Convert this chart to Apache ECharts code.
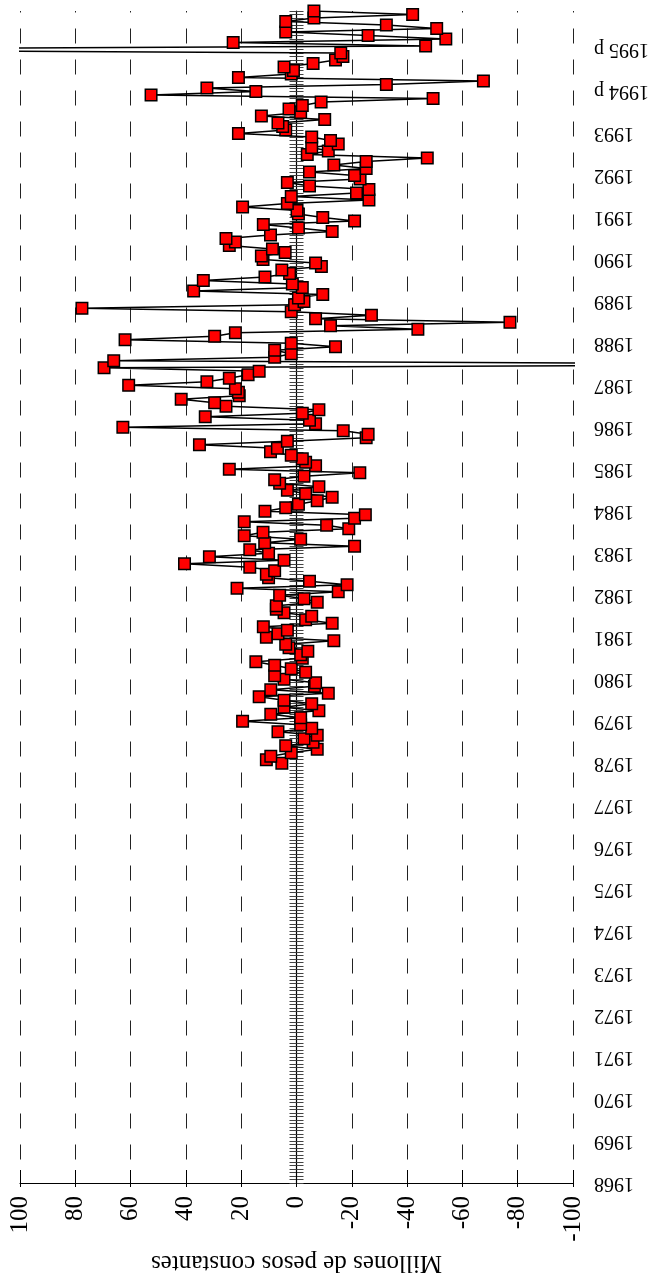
<!DOCTYPE html>
<html><head><meta charset="utf-8">
<script src="https://cdn.jsdelivr.net/npm/echarts@6/dist/echarts.min.js"></script>
<style>html,body{margin:0;padding:0;background:#fff}#c{width:656px;height:1275px}</style>
</head><body><div id="c"></div>
<script>
// Time axis: monthly, 1968-1995 ("p" = preliminary)
const firstYear = 1968;
const lastYear = 1995;
const provisionalYears = [1994, 1995];
const axisTitle = 'Millones de pesos constantes';
const valueTicks = [-100, -80, -60, -40, -20, 0, 20, 40, 60, 80, 100];

// Monthly values (Jan..Dec), millones de pesos constantes
const v1978 = [5.3, 10.9, 9.3, 1.9, -7.5, 3.9, -6, -2.7, -7.5, 6.7, -5.5, -1.5];
const v1979 = [19.5, -1.5, 9.3, -8.1, 4.5, -5.5, 4.5, 13.5, -11.5, 9.3, -6.5, -6.9];
const v1980 = [4.5, 7.9, -3.3, 1.9, 7.9, 14.7, -2.1, -1.5, -4.1, 2.7, 3.9, -13.5];
const v1981 = [10.9, 6.7, 3.3, 12, -12.9, -3.3, -5.5, 4.5, 7.3, 7.3, -7.5, -2.7];
const v1982 = [6.1, -15.1, 21.5, -18.3, -4.7, 10.1, 10.9, 7.9, 16.9, 40.5, 4.5, 31.5];
const v1983 = [10.1, 16.9, -21, 11.5, -1.5, 18.9, 12.1, -18.9, -10.9, 18.9, -21, -24.9];
const v1984 = [11.4, 3.9, -0.7, -7.5, -12.9, -3.3, 3.3, -8.1, 6.1, 7.9, -2.7, -22.9];
const v1985 = [24.3, -6.9, -3.3, -2.1, 1.9, 9.4, 6.9, 35.1, 3.3, -25.2, -25.9, -16.9];
const v1986 = [62.8, -6.9, -4.7, 33, -2.1, -8.1, 25.5, 29.6, 41.7, 20.7, 21, 22.1];
const v1987 = [60.7, 32.4, 24.3, 17.5, 13.5, 69.6, -215, 66.1, 7.9, 1.9, 7.9, -14.1];
const v1988 = [1.9, 62, 29.6, 22.1, -43.9, -12.3, -77.2, -6.9, -27.1, 1.9, 77.6, 0.7];
const v1989 = [-2.7, -0.7, -9.5, 37.2, -2.1, 1.5, 33.7, 11.4, 2.5, 5.3, -9, -6.9];
const v1990 = [12.1, 12.7, 4.1, 8.7, 24.3, 22.1, 25.5, 9.4, -12.9, -0.7, 12, -21];
const v1991 = [-9.5, -0.7, -0.2, 19.5, 3.3, -26.2, 1.9, -21.7, -26.2, -4.7, 3.3, -23];
const v1992 = [-21, -4.7, -25.2, -13.5, -25.2, -47.3, -3.9, -11.5, -5.5, -15.1, -12.3, -5.5];
const v1993 = [21, 3.9, 5, 6.7, -10.2, 12.7, -1.5, 2.7, -2.1, -8.9, -49.4, 52.6];
const v1994 = [14.7, 32.4, -32.5, -67.6, 21, 1.9, 1.1, 4.5, -6, -14.1, -16.8, -16];
const v1995 = [224, -46.7, 22.9, -54, -25.9, 3.9, -50.7, -32.5, 3.9, -6.3, -42, -6.3];

const seriesByYear = {
  1978: v1978, 1979: v1979, 1980: v1980, 1981: v1981, 1982: v1982, 1983: v1983,
  1984: v1984, 1985: v1985, 1986: v1986, 1987: v1987, 1988: v1988, 1989: v1989,
  1990: v1990, 1991: v1991, 1992: v1992, 1993: v1993, 1994: v1994, 1995: v1995
};

// Build month categories and data
const months = [];
for (let y = firstYear; y <= lastYear; y++) {
  for (let m = 1; m <= 12; m++) months.push(y + '-' + (m < 10 ? '0' + m : m));
}
const points = [];
Object.keys(seriesByYear).forEach(function (y) {
  seriesByYear[y].forEach(function (v, i) {
    points.push([v, y + '-' + (i < 9 ? '0' + (i + 1) : (i + 1))]);
  });
});
function yearText(cat) {
  const y = +cat.slice(0, 4);
  return provisionalYears.indexOf(y) >= 0 ? y + ' p' : String(y);
}
const isJan = function (idx, cat) { return cat.slice(5) === '01'; };

const FONT = 'Liberation Serif';
const chart = echarts.init(document.getElementById('c'), null, { renderer: 'canvas' });
const baseX = {
  type: 'value', min: -100, max: 100, interval: 20, inverse: true,
  position: 'bottom', gridIndex: 0
};
chart.setOption({
  animation: false,
  backgroundColor: '#fff',
  grid: { left: 20, right: 83, top: 11, bottom: 92, containLabel: false, outerBoundsMode: 'none' },
  xAxis: [
    Object.assign({}, baseX, {
      axisLine: { show: true, onZero: false, lineStyle: { color: '#000', width: 1.2 } },
      axisTick: { show: true, inside: true, length: 13, lineStyle: { color: '#000', width: 1 } },
      axisLabel: {
        show: true, rotate: 90, margin: 13, color: '#000', fontFamily: FONT, fontSize: 25,
        formatter: function (v) { return String(v); }
      },
      splitLine: { show: true, lineStyle: { color: '#222', width: 1, type: [15, 16], dashOffset: 13.5 } },
      name: axisTitle, nameLocation: 'middle', nameGap: 58, nameRotate: 180,
      nameTextStyle: { color: '#000', fontFamily: FONT, fontSize: 25 }
    }),
    Object.assign({}, baseX, {
      axisLine: { show: false, onZero: false },
      axisTick: { show: true, inside: false, length: 4, lineStyle: { color: '#000', width: 1 } },
      axisLabel: { show: false },
      splitLine: { show: false }
    })
  ],
  yAxis: [
    {
      type: 'category', data: months, boundaryGap: false, position: 'left',
      axisLine: { show: true, onZero: true, lineStyle: { color: '#000', width: 1.2 } },
      axisTick: { show: true, interval: 0, length: 7, lineStyle: { color: '#444', width: 1 } },
      axisLabel: { show: false }, splitLine: { show: false }
    },
    {
      type: 'category', data: months, boundaryGap: false, position: 'right',
      axisLine: { show: false, onZero: true },
      axisTick: { show: true, interval: 0, length: 7, lineStyle: { color: '#444', width: 1 } },
      axisLabel: { show: false }, splitLine: { show: false }
    },
    {
      type: 'category', data: months, boundaryGap: false, position: 'right',
      axisLine: { show: false, onZero: false },
      axisTick: { show: false },
      axisLabel: {
        show: true, interval: isJan, rotate: 180, margin: 21, color: '#000',
        fontFamily: FONT, fontSize: 20, formatter: yearText
      },
      splitLine: { show: false }
    }
  ],
  series: [{
    type: 'line', xAxisIndex: 0, yAxisIndex: 0, data: points,
    symbol: 'rect', symbolSize: 11.5, showAllSymbol: true, clip: true,
    lineStyle: { color: '#000', width: 1.5 },
    itemStyle: { color: '#ff0000', borderColor: '#000', borderWidth: 1.5 },
    z: 5
  }]
});
</script></body></html>
